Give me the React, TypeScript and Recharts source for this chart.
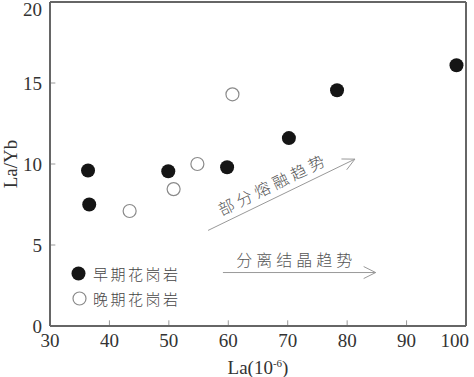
import React from "react";
import { Legend, ReferenceLine, Scatter, ScatterChart, XAxis, YAxis } from "recharts";

const earlyLa = [36.4, 36.6, 49.9, 59.8, 70.2, 78.3, 98.4];
const earlyLaYb = [9.6, 7.5, 9.55, 9.8, 11.6, 14.55, 16.1];
const lateLa = [43.4, 50.8, 54.8, 60.7];
const lateLaYb = [7.1, 8.45, 10.0, 14.3];
const seriesNames = ["早期花岗岩", "晚期花岗岩"];
const xTicks = [30, 40, 50, 60, 70, 80, 90, 100];
const yTicks = [0, 5, 10, 15, 20];
const trendLabels = ["部分熔融趋势", "分离结晶趋势"];

const earlyData = earlyLa.map((x, i) => ({ x, y: earlyLaYb[i] }));
const lateData = lateLa.map((x, i) => ({ x, y: lateLaYb[i] }));

const serif = "'Liberation Serif', 'Times New Roman', serif";
const cjk = "'Noto Sans CJK SC', sans-serif";
const frame = "#666";

const FilledDot = (p: any) => <circle cx={p.cx} cy={p.cy} r={7} fill="#151515" />;
const OpenDot = (p: any) => (
  <circle cx={p.cx} cy={p.cy} r={6.5} fill="#fff" stroke="#8a8a8a" strokeWidth={1.2} />
);

// the last label sits flush with the right edge of the picture
const XTick = (p: any) => {
  const last = p.payload.value === xTicks[xTicks.length - 1];
  return (
    <text
      x={last ? p.x + 7 : p.x}
      y={p.y}
      dy="0.71em"
      textAnchor={last ? "end" : "middle"}
      fontFamily={serif}
      fontSize={19}
      fill="#333"
    >
      {p.payload.value}
    </text>
  );
};

const YTick = (p: any) => (
  <text x={p.x} y={p.y} dy="0.355em" textAnchor="end" fontFamily={serif} fontSize={19} fill="#333">
    {p.payload.value}
  </text>
);

// arrow with a label sitting above it, drawn along the segment
const makeArrow = (label: string, shift: number, lift: number) => (props: any) => {
  const { x1, y1, x2, y2 } = props;
  const dx = x2 - x1;
  const dy = y2 - y1;
  const len = Math.hypot(dx, dy);
  const ux = dx / len;
  const uy = dy / len;
  const nx = uy;
  const ny = -ux;
  const bx = x2 - ux * 12;
  const by = y2 - uy * 12;
  const mx = (x1 + x2) / 2 + ux * shift + nx * lift;
  const my = (y1 + y2) / 2 + uy * shift + ny * lift;
  const angle = (Math.atan2(dy, dx) * 180) / Math.PI;
  return (
    <g>
      <line x1={x1} y1={y1} x2={x2} y2={y2} stroke="#999" strokeWidth={1} />
      <polyline
        points={`${bx + nx * 6},${by + ny * 6} ${x2},${y2} ${bx - nx * 6},${by - ny * 6}`}
        fill="none"
        stroke="#999"
        strokeWidth={1}
      />
      <text
        x={mx}
        y={my}
        transform={`rotate(${angle} ${mx} ${my})`}
        textAnchor="middle"
        dominantBaseline="central"
        fontFamily={cjk}
        fontSize={16}
        fontWeight={300}
        letterSpacing={4}
        fill="#555"
      >
        {label}
      </text>
    </g>
  );
};

const LegendBox = () => (
  <div style={{ fontFamily: cjk, fontSize: 15, fontWeight: 300, color: "#444" }}>
    {seriesNames.map((name, i) => (
      <div key={name} style={{ display: "flex", alignItems: "center", height: 25 }}>
        <svg width={17} height={17}>
          {i === 0 ? (
            <circle cx={8.5} cy={8.5} r={7} fill="#151515" />
          ) : (
            <circle cx={9.5} cy={8.5} r={6.5} fill="#fff" stroke="#8a8a8a" strokeWidth={1.2} />
          )}
        </svg>
        <span style={{ marginLeft: 6, letterSpacing: 2.5 }}>{name}</span>
      </div>
    ))}
  </div>
);

const XTitle = (props: any) => {
  const { x, y, width } = props.viewBox;
  return (
    <text x={x + width / 2} y={y + 48} textAnchor="middle" fontFamily={serif} fontSize={19} fill="#333">
      La(10
      <tspan dy={-7} fontSize={11}>-6</tspan>
      <tspan dy={7}>)</tspan>
    </text>
  );
};

const YTitle = (props: any) => {
  const { y, height } = props.viewBox;
  const cy = y + height / 2;
  return (
    <text
      x={10}
      y={cy}
      transform={`rotate(-90 10 ${cy})`}
      textAnchor="middle"
      dominantBaseline="central"
      fontFamily={serif}
      fontSize={19}
      fill="#333"
    >
      La/Yb
    </text>
  );
};

export default function App() {
  return (
    <div style={{ position: "absolute", left: 0, top: 0, width: 474, height: 377, background: "#fff" }}>
      <ScatterChart width={474} height={377} margin={{ top: 2, right: 8, bottom: 21, left: 0 }}>
        <XAxis
          type="number"
          dataKey="x"
          domain={[30, 100]}
          ticks={xTicks}
          height={30}
          tickLine={false}
          axisLine={{ stroke: frame, strokeWidth: 2 }}
          tick={<XTick />}
          label={<XTitle />}
        />
        <YAxis
          type="number"
          dataKey="y"
          domain={[0, 20]}
          ticks={yTicks}
          width={50}
          tickLine={false}
          axisLine={{ stroke: frame, strokeWidth: 2 }}
          tick={<YTick />}
          label={<YTitle />}
        />
        <ReferenceLine y={20} stroke={frame} strokeWidth={2} />
        <ReferenceLine x={100} stroke={frame} strokeWidth={2} />
        {xTicks.slice(1, -1).map((t) => (
          <ReferenceLine key={"xt" + t} segment={[{ x: t, y: 0 }, { x: t, y: 0.35 }]} stroke="#999" />
        ))}
        {yTicks.slice(1, -1).map((t) => (
          <ReferenceLine key={"yt" + t} segment={[{ x: 30, y: t }, { x: 30.9, y: t }]} stroke="#999" />
        ))}
        <ReferenceLine
          segment={[{ x: 56.6, y: 5.9 }, { x: 81.3, y: 10.3 }]}
          shape={makeArrow(trendLabels[0], -3, 14)}
        />
        <ReferenceLine
          segment={[{ x: 59.1, y: 3.3 }, { x: 84.8, y: 3.3 }]}
          shape={makeArrow(trendLabels[1], -3, 14)}
        />
        <Scatter name={seriesNames[0]} data={earlyData} shape={FilledDot} isAnimationActive={false} />
        <Scatter name={seriesNames[1]} data={lateData} shape={OpenDot} isAnimationActive={false} />
        <Legend
          layout="vertical"
          align="center"
          verticalAlign="middle"
          content={<LegendBox />}
          wrapperStyle={{ left: 70, top: 261, width: "auto" }}
        />
      </ScatterChart>
    </div>
  );
}
